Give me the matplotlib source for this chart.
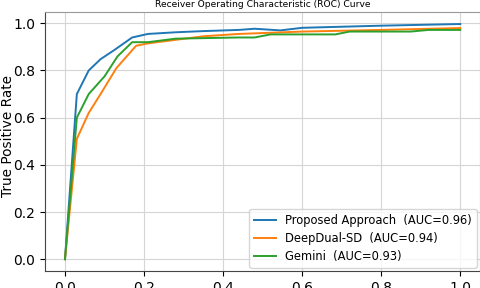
import numpy as np
import matplotlib
matplotlib.use('Agg')
import matplotlib.pyplot as plt

# ROC points
fpr_proposed = [0, 0.03, 0.06, 0.09, 0.125, 0.17, 0.21, 0.28, 0.35, 0.44, 0.48, 0.545, 0.6, 0.8, 1.0]
tpr_proposed = [0, 0.70, 0.80, 0.848, 0.887, 0.94, 0.955, 0.962, 0.967, 0.972, 0.977, 0.970, 0.981, 0.99, 0.997]

fpr_deepdual = [0, 0.03, 0.06, 0.09, 0.13, 0.18, 0.21, 0.28, 0.35, 0.44, 0.6, 0.8, 1.0]
tpr_deepdual = [0, 0.51, 0.62, 0.70, 0.81, 0.905, 0.915, 0.93, 0.945, 0.955, 0.965, 0.972, 0.98]

fpr_gemini = [0, 0.03, 0.06, 0.10, 0.133, 0.17, 0.21, 0.28, 0.44, 0.48, 0.52, 0.684, 0.72, 0.874, 0.92, 1.0]
tpr_gemini = [0, 0.60, 0.70, 0.775, 0.86, 0.92, 0.92, 0.935, 0.94, 0.94, 0.953, 0.953, 0.965, 0.965, 0.972, 0.972]

labels = ['Proposed Approach  (AUC=0.96)', 'DeepDual-SD  (AUC=0.94)', 'Gemini  (AUC=0.93)']

fig = plt.figure(figsize=(4.81, 2.88), dpi=100)
ax = fig.add_axes([0.094, 0.059, 0.904, 0.901])

ax.plot(fpr_proposed, tpr_proposed, color='tab:blue', lw=1.4, label=labels[0])
ax.plot(fpr_deepdual, tpr_deepdual, color='tab:orange', lw=1.4, label=labels[1])
ax.plot(fpr_gemini, tpr_gemini, color='tab:green', lw=1.4, label=labels[2])

ax.set_xlim(-0.05, 1.05)
ax.set_ylim(-0.05, 1.05)
ax.set_xticks([0, 0.2, 0.4, 0.6, 0.8, 1.0])
ax.set_yticks([0, 0.2, 0.4, 0.6, 0.8, 1.0])
ax.tick_params(labelsize=10)
ax.grid(True, color='#d5d5d5', lw=0.8)
for side in ['top', 'right']:
    ax.spines[side].set_color('#999999')
for side in ['left', 'bottom']:
    ax.spines[side].set_color('#444444')

ax.set_ylabel('True Positive Rate', fontsize=9.8)
ax.yaxis.set_label_coords(-0.069, 0.52)
ax.set_title('Receiver Operating Characteristic (ROC) Curve', fontsize=6.6, pad=3)
ax.legend(loc='lower right', fontsize=8.3, handlelength=1.9, borderaxespad=0.3,
          labelspacing=0.45)

fig.savefig('out.png', dpi=100)
